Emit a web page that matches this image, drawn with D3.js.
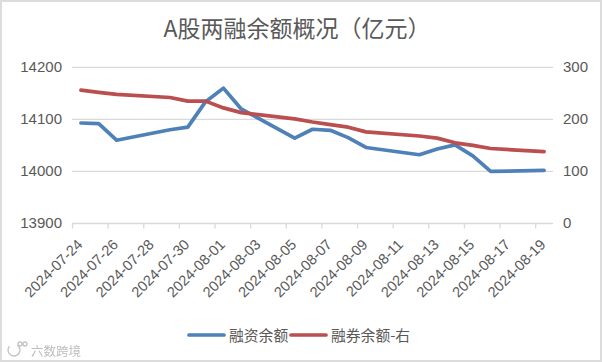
<!DOCTYPE html>
<html>
<head>
<meta charset="utf-8">
<script src="https://cdn.jsdelivr.net/npm/d3@7"></script>
<style>
    html, body { margin: 0; padding: 0; background: #fff; }
    svg { display: block; font-family: "Noto Sans CJK SC", sans-serif; filter: blur(0.35px); }
    .axis path { display: none; }
    .axis text { fill: #595959; font-size: 15px; }
    .axis-x text { font-size: 14.6px; }
    .axis-x line, .axis-x .baseline { stroke: #d9d9d9; stroke-width: 1.3; }
    .grid line { stroke: #d9d9d9; stroke-width: 1.3; }
    .series { fill: none; stroke-width: 3.7; stroke-linejoin: round; stroke-linecap: round; }
    .mark { filter: blur(0.5px); }
</style>
</head>
<body>
<div id="chart"></div>
<script>
const title = "A股两融余额概况（亿元）";
const seriesNames = ["融资余额", "融券余额-右"];
const seriesColors = ["#4e81b8", "#bb4e4e"];
const watermark = "六数跨境";

const dates = ["2024-07-24", "2024-07-25", "2024-07-26", "2024-07-29", "2024-07-30",
    "2024-07-31", "2024-08-01", "2024-08-02", "2024-08-05", "2024-08-06",
    "2024-08-07", "2024-08-08", "2024-08-09", "2024-08-12", "2024-08-13",
    "2024-08-14", "2024-08-15", "2024-08-16", "2024-08-19"];
const marginBalance = [14093, 14092, 14060, 14080, 14085, 14134, 14160, 14120, 14064, 14081,
    14079, 14065, 14046, 14032, 14043, 14051, 14030, 14000, 14002];
const shortBalance = [256, 252, 248, 242, 235, 235, 222, 213, 201, 195,
    190, 185, 176, 168, 164, 155, 150, 144, 138];

const xTicks = ["2024-07-24", "2024-07-26", "2024-07-28", "2024-07-30", "2024-08-01",
    "2024-08-03", "2024-08-05", "2024-08-07", "2024-08-09", "2024-08-11",
    "2024-08-13", "2024-08-15", "2024-08-17", "2024-08-19"];
const leftTicks = [13900, 14000, 14100, 14200];
const rightTicks = [0, 100, 200, 300];

const width = 602;
const height = 362;
const margin = { t: 67.3, l: 72, r: 49, b: 138.5 };
const parseDate = d3.utcParse("%Y-%m-%d");

const plot = d3.select("#chart")
    .append("svg")
    .attr("width", width)
    .attr("height", height);

// frame
plot.append("rect")
    .attr("x", 1)
    .attr("y", 1)
    .attr("width", width - 2)
    .attr("height", height - 2)
    .attr("fill", "#fff")
    .attr("stroke", "#dcdcdc")
    .attr("stroke-width", 2);

// scales, each day is one slot and the tick sits at its left edge
const scaleX = d3.scaleUtc()
    .domain([parseDate("2024-07-24"), parseDate("2024-08-20")])
    .range([margin.l, width - margin.r]);
const midDay = d => d3.utcHour.offset(parseDate(d), 12);

const scaleLeft = d3.scaleLinear()
    .domain([13900, 14200])
    .range([height - margin.b, margin.t]);
const scaleRight = d3.scaleLinear()
    .domain([0, 300])
    .range([height - margin.b, margin.t]);

plot.append("text")
    .attr("x", 297)
    .attr("y", 37)
    .attr("text-anchor", "middle")
    .attr("fill", "#595959")
    .attr("font-size", 23)
    .text(title);

// gridlines
plot.append("g")
    .attr("class", "grid")
    .selectAll("line")
    .data(leftTicks.slice(1))
    .join("line")
    .attr("x1", margin.l)
    .attr("x2", width - margin.r)
    .attr("y1", d => scaleLeft(d))
    .attr("y2", d => scaleLeft(d));

// axes
plot.append("g")
    .attr("class", "axis axis-y")
    .attr("transform", `translate(${margin.l}, -1)`)
    .call(d3.axisLeft(scaleLeft).tickValues(leftTicks).tickSize(0).tickPadding(10).tickFormat(d3.format("d")));

plot.append("g")
    .attr("class", "axis axis-y2")
    .attr("transform", `translate(${width - margin.r}, -1)`)
    .call(d3.axisRight(scaleRight).tickValues(rightTicks).tickSize(0).tickPadding(10).tickFormat(d3.format("d")));

const axisX = plot.append("g")
    .attr("class", "axis axis-x")
    .attr("transform", `translate(0, ${height - margin.b})`)
    .call(d3.axisBottom(scaleX)
        .tickValues(xTicks.map(parseDate))
        .tickSize(5)
        .tickFormat(d3.utcFormat("%Y-%m-%d")));

axisX.append("line")
    .attr("class", "baseline")
    .attr("x1", margin.l)
    .attr("x2", width - margin.r);

axisX.selectAll("text")
    .attr("text-anchor", "end")
    .attr("transform", "translate(-2, 9) rotate(-45)")
    .attr("dy", "0.7em");

// lines
const lineLeft = d3.line()
    .x((d, i) => scaleX(midDay(dates[i])))
    .y(d => scaleLeft(d));
const lineRight = d3.line()
    .x((d, i) => scaleX(midDay(dates[i])))
    .y(d => scaleRight(d));

plot.append("path")
    .attr("class", "series")
    .attr("stroke", seriesColors[0])
    .attr("d", lineLeft(marginBalance));

plot.append("path")
    .attr("class", "series")
    .attr("stroke", seriesColors[1])
    .attr("d", lineRight(shortBalance));

// legend
const legendX = [189, 291];
const legend = plot.append("g")
    .selectAll("g")
    .data(seriesNames)
    .join("g")
    .attr("transform", (d, i) => `translate(${legendX[i]}, 335)`);

legend.append("line")
    .attr("x1", 0)
    .attr("x2", 35)
    .attr("stroke", (d, i) => seriesColors[i])
    .attr("stroke-width", 3.7)
    .attr("stroke-linecap", "round");

legend.append("text")
    .attr("x", 40)
    .attr("y", 5.5)
    .attr("fill", "#595959")
    .attr("font-size", 14.8)
    .text(d => d);

// watermark
const logo = plot.append("g")
    .attr("class", "mark")
    .attr("fill", "none")
    .attr("stroke", "#c4c4c4")
    .attr("stroke-width", 1.4);

logo.append("path")
    .attr("d", d3.arc()({ innerRadius: 6, outerRadius: 6, startAngle: 0.6, endAngle: 5.4 }))
    .attr("transform", "translate(14, 350)");

logo.selectAll("circle")
    .data([20, 25])
    .join("circle")
    .attr("cx", d => d)
    .attr("cy", 344)
    .attr("r", 2);

plot.append("text")
    .attr("class", "mark")
    .attr("x", 31)
    .attr("y", 356)
    .attr("fill", "#bdbdbd")
    .attr("font-size", 12.5)
    .text(watermark);
</script>
</body>
</html>
